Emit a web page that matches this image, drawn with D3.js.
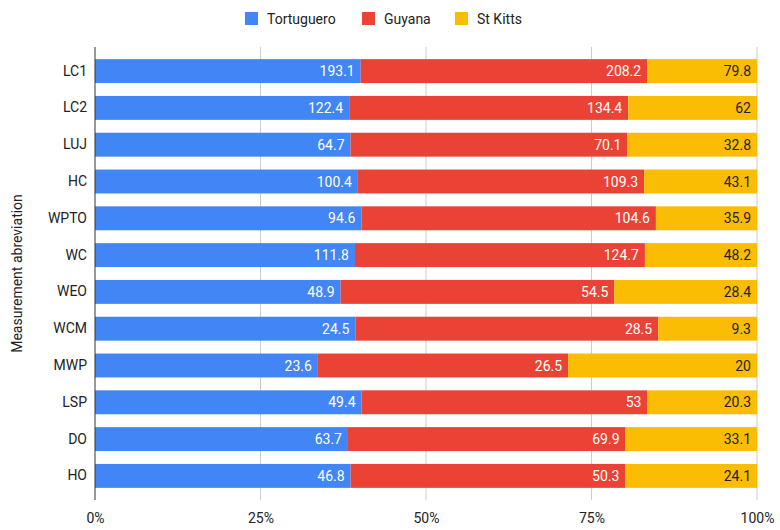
<!DOCTYPE html>
<html>
<head>
<meta charset="utf-8">
<script src="https://cdn.jsdelivr.net/npm/d3@7"></script>
<style>
  body { margin: 0; background: #fff; }
  text { font-family: Roboto, "Noto Sans", sans-serif; }
</style>
</head>
<body>
<div id="chart"></div>
<script>
// data
var categories = ["LC1", "LC2", "LUJ", "HC", "WPTO", "WC", "WEO", "WCM", "MWP", "LSP", "DO", "HO"];
var seriesNames = ["Tortuguero", "Guyana", "St Kitts"];
var tortuguero = [193.1, 122.4, 64.7, 100.4, 94.6, 111.8, 48.9, 24.5, 23.6, 49.4, 63.7, 46.8];
var guyana = [208.2, 134.4, 70.1, 109.3, 104.6, 124.7, 54.5, 28.5, 26.5, 53, 69.9, 50.3];
var stKitts = [79.8, 62, 32.8, 43.1, 35.9, 48.2, 28.4, 9.3, 20, 20.3, 33.1, 24.1];
var xTicks = [0, 0.25, 0.5, 0.75, 1];

var colors = ["#4285F4", "#EA4335", "#FBBC04"];
var labelColors = ["#ffffff", "#ffffff", "#222222"];

var svgWidth = 780;
var svgHeight = 530;
var margin = { top: 47, right: 23, bottom: 30, left: 95 };
var width = svgWidth - margin.left - margin.right;
var height = svgHeight - margin.top - margin.bottom;

var svg = d3.select("#chart")
  .append("svg")
  .attr("width", svgWidth)
  .attr("height", svgHeight);

var chartGroup = svg.append("g")
  .attr("transform", `translate(${margin.left}, ${margin.top})`);

// build rows for stacking
var rows = categories.map(function(c, i) {
  return { cat: c, "Tortuguero": tortuguero[i], "Guyana": guyana[i], "St Kitts": stKitts[i] };
});

var stacked = d3.stack()
  .keys(seriesNames)
  .offset(d3.stackOffsetExpand)(rows);

var xScale = d3.scaleLinear().domain([0, 1]).range([0, width]);
var yScale = d3.scaleBand()
  .domain(categories)
  .range([0, height])
  .paddingInner(0.35)
  .paddingOuter(0.33);

// gridlines
chartGroup.selectAll(".grid")
  .data(xTicks.slice(1))
  .enter()
  .append("line")
  .attr("x1", d => xScale(d))
  .attr("x2", d => xScale(d))
  .attr("y1", 0)
  .attr("y2", height)
  .attr("stroke", "#cccccc")
  .attr("stroke-width", 1);

// bars
var layers = chartGroup.selectAll(".layer")
  .data(stacked)
  .enter()
  .append("g")
  .attr("fill", (d, i) => colors[i]);

layers.selectAll("rect")
  .data(d => d)
  .enter()
  .append("rect")
  .attr("x", d => xScale(d[0]))
  .attr("y", d => yScale(d.data.cat))
  .attr("width", d => xScale(d[1]) - xScale(d[0]))
  .attr("height", yScale.bandwidth());

// value labels inside each segment
stacked.forEach(function(layer, si) {
  chartGroup.selectAll(".lbl" + si)
    .data(layer)
    .enter()
    .append("text")
    .attr("x", d => xScale(d[1]) - 6)
    .attr("y", d => yScale(d.data.cat) + yScale.bandwidth() / 2)
    .attr("dy", "0.36em")
    .attr("text-anchor", "end")
    .attr("font-size", "14px")
    .attr("fill", labelColors[si])
    .text(d => d.data[seriesNames[si]]);
});

// zero baseline
chartGroup.append("line")
  .attr("x1", 0).attr("x2", 0)
  .attr("y1", 0).attr("y2", height)
  .attr("stroke", "#333333")
  .attr("stroke-width", 1);

// category labels
var leftAxis = d3.axisLeft(yScale).tickSize(0).tickPadding(8);
var yAxis = chartGroup.append("g").call(leftAxis);
yAxis.select(".domain").remove();
yAxis.selectAll("text")
  .attr("font-size", "14px")
  .attr("fill", "#222222")
  .style("font-family", "Roboto, sans-serif");

// percent tick labels
var bottomAxis = d3.axisBottom(xScale)
  .tickValues(xTicks)
  .tickFormat(d3.format(".0%"))
  .tickSize(0)
  .tickPadding(13);
var xAxis = chartGroup.append("g")
  .attr("transform", `translate(0, ${height})`)
  .call(bottomAxis);
xAxis.select(".domain").remove();
xAxis.selectAll("text")
  .attr("font-size", "14px")
  .attr("fill", "#222222")
  .style("font-family", "Roboto, sans-serif");

// y axis title
svg.append("text")
  .attr("transform", "rotate(-90)")
  .attr("x", -(margin.top + height / 2))
  .attr("y", 22)
  .attr("text-anchor", "middle")
  .attr("font-size", "14px")
  .attr("fill", "#222222")
  .text("Measurement abreviation");

// legend
var legendX = [245, 362, 455];
var legend = svg.append("g");
seriesNames.forEach(function(name, i) {
  legend.append("rect")
    .attr("x", legendX[i])
    .attr("y", 12)
    .attr("width", 13)
    .attr("height", 13)
    .attr("fill", colors[i]);
  legend.append("text")
    .attr("x", legendX[i] + 22)
    .attr("y", 18.5)
    .attr("dy", "0.36em")
    .attr("font-size", "14px")
    .attr("fill", "#222222")
    .text(name);
});
</script>
</body>
</html>
